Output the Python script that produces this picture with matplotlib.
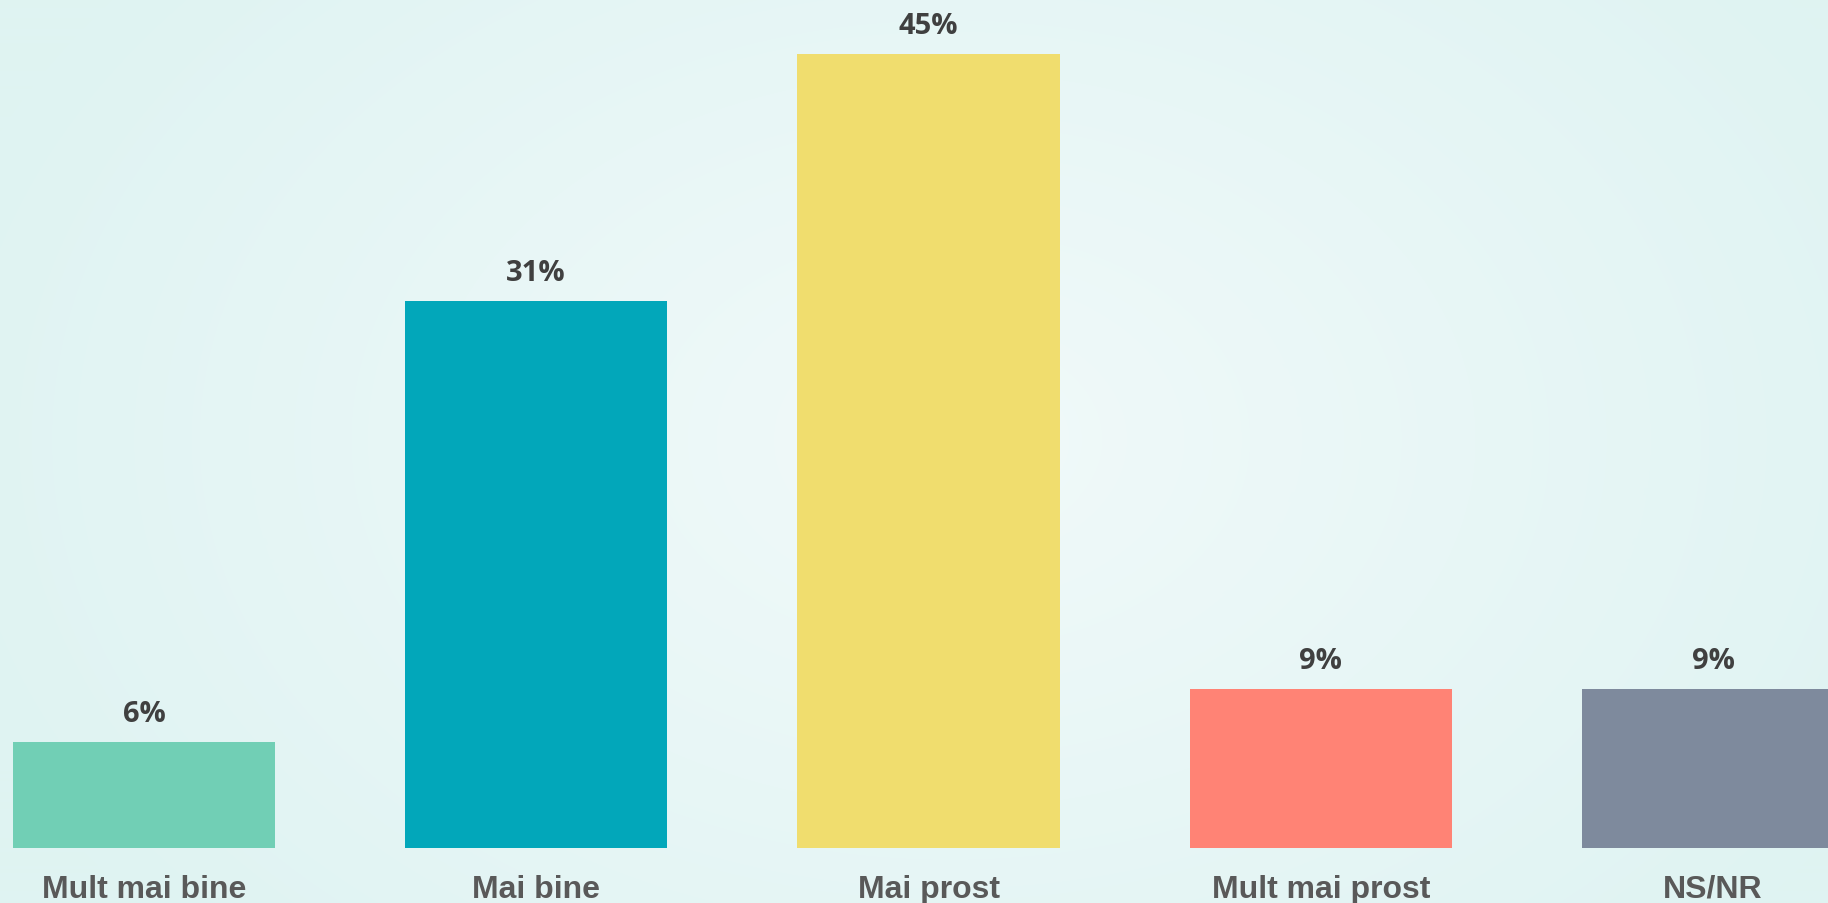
import matplotlib.pyplot as plt
import matplotlib.colors as mcolors
import numpy as np

categories = ["Mult mai bine", "Mai bine", "Mai prost", "Mult mai prost", "NS/NR"]
values = [6, 31, 45, 9, 9]
value_labels = ["6%", "31%", "45%", "9%", "9%"]
bar_colors = ["#71CFB5", "#02A7BA", "#F0DD6E", "#FF8375", "#7E8A9D"]

fig = plt.figure(figsize=(18.28, 9.035), dpi=100)

# radial gradient background
bg = fig.add_axes([0, 0, 1, 1], zorder=0)
yy, xx = np.mgrid[0:903, 0:1828]
r = np.sqrt(((xx - 950) / 1000.0) ** 2 + ((yy - 440) / 700.0) ** 2)
r = np.clip(r / 1.05, 0, 1)
cmap = mcolors.LinearSegmentedColormap.from_list("bg", ["#F1FAFA", "#DFF3F2"])
bg.imshow(r, cmap=cmap, aspect="auto", extent=[0, 1, 0, 1], vmin=0, vmax=1)
bg.axis("off")

ax = fig.add_axes([0, 0.0612, 1, 0.9388], zorder=1)
ax.patch.set_alpha(0)
x = np.arange(len(categories))
bars = ax.bar(x, values, width=0.668, color=bar_colors)
ax.set_xlim(-0.367, 4.293)
ax.set_ylim(0, 48.06)

for xi, v, lab in zip(x, values, value_labels):
    ax.annotate(lab, (xi, v), xytext=(0, 14.5), textcoords="offset points",
                ha="center", va="baseline", fontsize=21, fontweight="bold",
                color="#404040", family="Open Sans")

ax.set_xticks(x)
ax.set_xticklabels(categories, fontsize=23, fontweight="bold", color="#595959",
                   family="Liberation Sans")
ax.tick_params(axis="x", length=0, pad=19)
ax.set_yticks([])
for s in ax.spines.values():
    s.set_visible(False)

fig.savefig("out.png", dpi=100)
